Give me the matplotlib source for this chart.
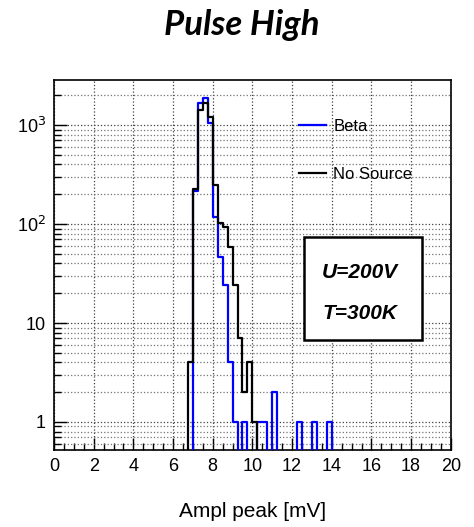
import matplotlib.pyplot as plt
import matplotlib.ticker as ticker
from matplotlib.patches import Rectangle
import numpy as np

# histogram data, 0.25 mV bins starting at 6.75 mV
bin_start = 6.75
bin_width = 0.25
beta = [0, 217, 1660, 1870, 1050, 119, 46, 24, 4, 1, 0, 1, 0, 0, 1, 1,
        0, 2, 0, 0, 0, 0, 1, 0, 0, 1, 0, 0, 1]
no_source = [4, 224, 1420, 1680, 1210, 248, 103, 93, 58, 24, 7, 2, 4, 1, 0, 0,
             0, 0, 0, 0, 0, 0, 0, 0, 0, 0, 0, 0, 0]

x_ticks = [0, 2, 4, 6, 8, 10, 12, 14, 16, 18, 20]
y_ticks = [1, 10, 100, 1000]
y_ticklabels = ['1', '10', '10$^2$', '10$^3$']

plt.rcParams['font.family'] = ['Liberation Sans', 'DejaVu Sans']

fig = plt.figure(figsize=(4.74, 5.27), dpi=100)
ax = fig.add_axes([0.114, 0.146, 0.837, 0.702])


def step_xy(counts):
    edges = bin_start + bin_width * np.arange(len(counts) + 1)
    xs = np.repeat(edges, 2)
    ys = np.concatenate([[0], np.repeat(counts, 2), [0]])
    return xs, ys


xb, yb = step_xy(beta)
xn, yn = step_xy(no_source)
ax.plot(xb, yb, color='#0000ff', lw=1.6, label='Beta', zorder=3)
ax.plot(xn, yn, color='black', lw=1.6, label='No Source', zorder=4)

ax.set_yscale('log')
ax.set_xlim(0, 20)
ax.set_ylim(0.52, 2850)
ax.set_xticks(x_ticks)
ax.xaxis.set_minor_locator(ticker.MultipleLocator(0.5))
ax.set_yticks(y_ticks)
ax.set_yticklabels(y_ticklabels)
ax.yaxis.set_minor_locator(ticker.LogLocator(base=10, subs=np.arange(2, 10)))
ax.yaxis.set_minor_formatter(ticker.NullFormatter())

ax.tick_params(axis='both', which='major', direction='in', length=9, width=1,
               labelsize=13, pad=6)
ax.tick_params(axis='both', which='minor', direction='in', length=5, width=1)
ax.grid(True, which='major', axis='x', linestyle=':', color='0.25', lw=0.9)
ax.grid(True, which='major', axis='y', linestyle=':', color='0.25', lw=0.9)
ax.grid(True, which='minor', axis='y', linestyle=':', color='0.45', lw=0.9)
for s in ax.spines.values():
    s.set_linewidth(1.2)

ax.set_xlabel('Ampl peak [mV]', fontsize=15, labelpad=19)

ax.legend(loc='upper left', bbox_to_anchor=(0.58, 0.935), frameon=False,
          fontsize=12, handlelength=1.6, handletextpad=0.45, labelspacing=1.95)

# info box
ax.add_patch(Rectangle((0.630, 0.297), 0.297, 0.279, transform=ax.transAxes,
                       facecolor='white', edgecolor='black', lw=1.8, zorder=5))
ax.text(0.772, 0.481, 'U=200V', transform=ax.transAxes, ha='center', va='center',
        fontsize=15, fontweight='bold', fontstyle='italic', zorder=6)
ax.text(0.772, 0.370, 'T=300K', transform=ax.transAxes, ha='center', va='center',
        fontsize=15, fontweight='bold', fontstyle='italic', zorder=6)

fig.text(0.51, 0.953, 'Pulse High', ha='center', va='center', fontsize=25,
         fontweight='bold', fontstyle='italic', family=['Lato', 'DejaVu Sans'])

fig.savefig('out.png', dpi=100)
